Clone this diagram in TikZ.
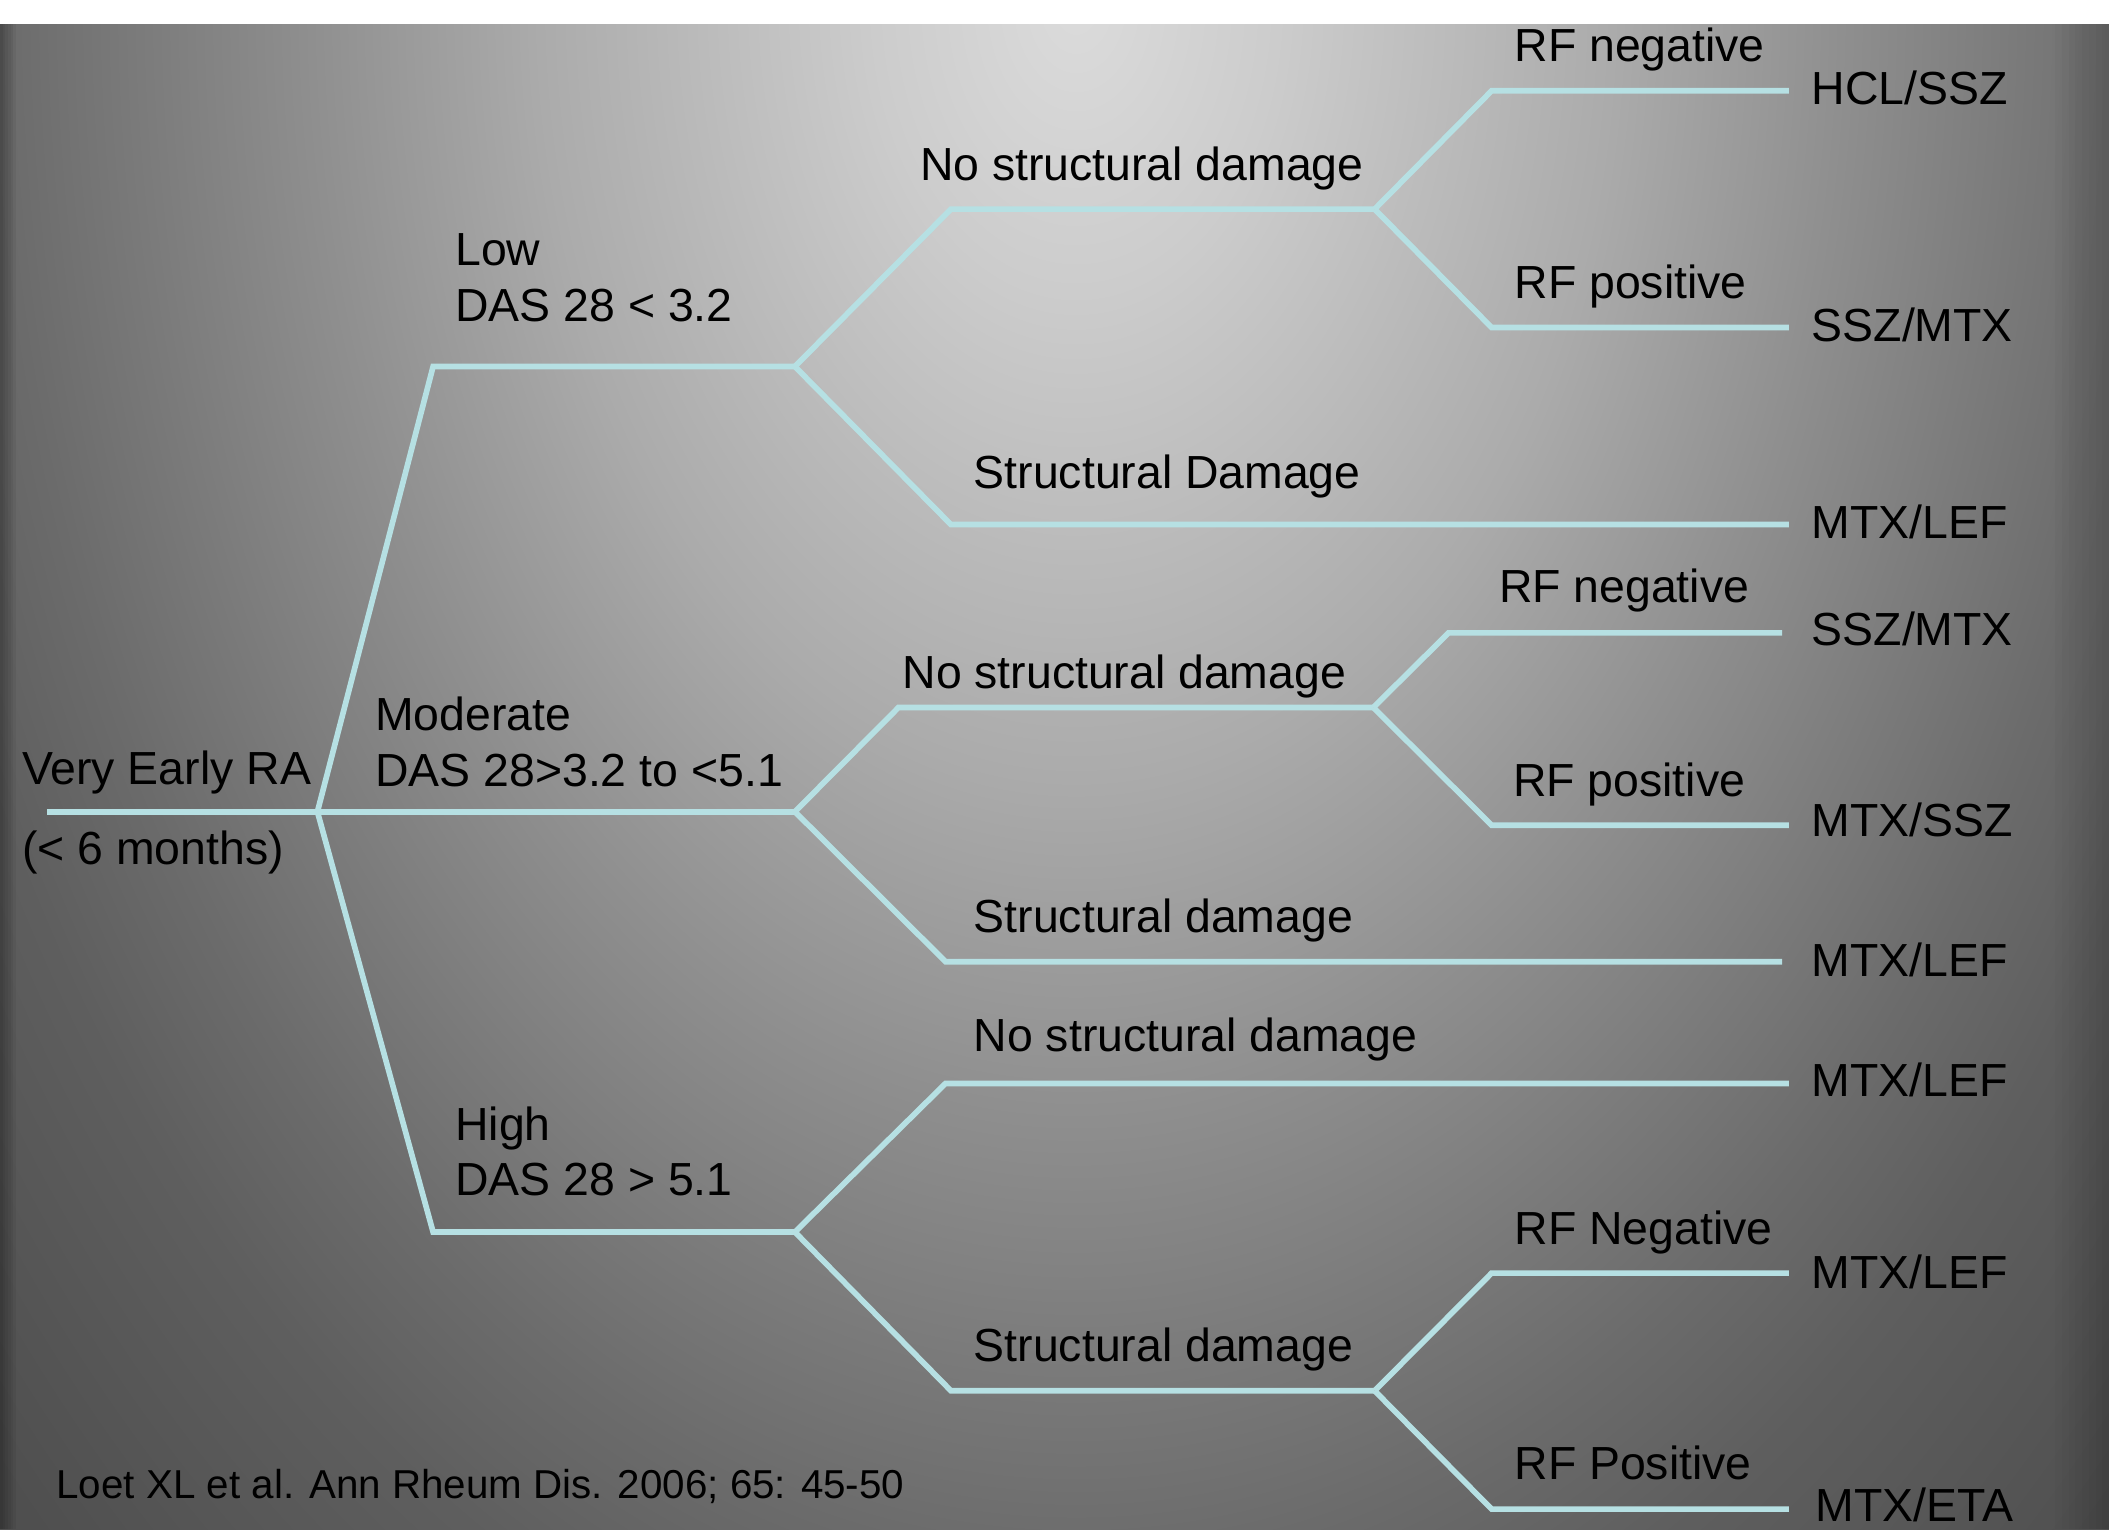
\documentclass[tikz,border=0pt]{standalone}
\usepackage{fontspec}
\setmainfont{Liberation Sans}
\definecolor{linec}{RGB}{182,224,227}
\definecolor{bga}{gray}{0.86}
\definecolor{bgb}{gray}{0.80}
\definecolor{bgc}{gray}{0.67}
\definecolor{bgd}{gray}{0.56}
\definecolor{bge}{gray}{0.48}
\definecolor{bgf}{gray}{0.42}
\definecolor{bgg}{gray}{0.37}
\definecolor{bgh}{gray}{0.31}
\pgfdeclareradialshading{bgshade}{\pgfpointorigin}{color(0bp)=(bga); color(3.75bp)=(bgb); color(10bp)=(bgc); color(14.25bp)=(bgd); color(17.5bp)=(bge); color(20bp)=(bgf); color(22.5bp)=(bgg); color(27.5bp)=(bgh); color(50bp)=(bgh)}
\tikzset{
  branch/.style={draw=linec, line width=4.2pt, line join=miter},
  lbl/.style={anchor=base west, inner sep=0pt, outer sep=0pt, text=black, font=\fontsize{34.5}{41}\selectfont},
  cite/.style={anchor=base west, inner sep=0pt, outer sep=0pt, text=black, font=\fontsize{30}{36}\selectfont}
}
\begin{document}
\begin{tikzpicture}[x=1pt,y=-1pt]
\useasboundingbox (0,0) rectangle (1568,1137);
% background
\fill[white] (0,0) rectangle (1568,18);
\begin{scope}
  \clip (0,18) rectangle (1568,1137);
  \shade[shading=bgshade] (-200,-1450) rectangle (1800,1450);
  \foreach \w in {2,4,6,8,10,12} {\fill[black, opacity=0.05] (0,18) rectangle (\w,1137);}
  \foreach \w in {5,10,15,20,25,30,35,40} {\fill[black, opacity=0.02] (1568-\w,18) rectangle (1568,1137);}
\end{scope}

% coordinates of the tree
\coordinate (r0) at (35,603.5);
\coordinate (J0) at (236,603.5);
\coordinate (lowc) at (322,272.5);
\coordinate (J1) at (591,272.5);
\coordinate (J2) at (591,603.5);
\coordinate (highc) at (322,916);
\coordinate (J3) at (591,916);
% low branch
\coordinate (c11) at (707,155.5);
\coordinate (J11) at (1022,155.5);
\coordinate (c12) at (707,390);
\coordinate (e12) at (1330,390);
\coordinate (c111) at (1109,67.5);
\coordinate (e111) at (1330,67.5);
\coordinate (c112) at (1109,243.5);
\coordinate (e112) at (1330,243.5);
% moderate branch
\coordinate (c21) at (668,526);
\coordinate (J21) at (1021,526);
\coordinate (c22) at (703,715);
\coordinate (e22) at (1325,715);
\coordinate (c211) at (1077,470.5);
\coordinate (e211) at (1325,470.5);
\coordinate (c212) at (1109,613.5);
\coordinate (e212) at (1330,613.5);
% high branch
\coordinate (c31) at (703,805.5);
\coordinate (e31) at (1330,805.5);
\coordinate (c32) at (707,1034);
\coordinate (J32) at (1022,1034);
\coordinate (c321) at (1109,946.5);
\coordinate (e321) at (1330,946.5);
\coordinate (c322) at (1109,1122);
\coordinate (e322) at (1330,1122);

% connectors
\draw[branch] (r0) -- (J0);
\draw[branch] (J0) -- (lowc) -- (J1);
\draw[branch] (J0) -- (J2);
\draw[branch] (J0) -- (highc) -- (J3);
\draw[branch] (J1) -- (c11) -- (J11);
\draw[branch] (J1) -- (c12) -- (e12);
\draw[branch] (J11) -- (c111) -- (e111);
\draw[branch] (J11) -- (c112) -- (e112);
\draw[branch] (J2) -- (c21) -- (J21);
\draw[branch] (J2) -- (c22) -- (e22);
\draw[branch] (J21) -- (c211) -- (e211);
\draw[branch] (J21) -- (c212) -- (e212);
\draw[branch] (J3) -- (c31) -- (e31);
\draw[branch] (J3) -- (c32) -- (J32);
\draw[branch] (J32) -- (c321) -- (e321);
\draw[branch] (J32) -- (c322) -- (e322);

% labels
\node[lbl] (ra1) at (16.5,583) {Very Early RA};
\node[lbl] (ra2) at (16.5,643) {(< 6 months)};
\node[lbl] (low1) at (338.5,197.6) {Low};
\node[lbl] (low2) at (338.5,239) {DAS 28 < 3.2};
\node[lbl] (mod1) at (279,543) {Moderate};
\node[lbl] (mod2) at (279,584.4) {DAS 28>3.2 to <5.1};
\node[lbl] (high1) at (338.5,848) {High};
\node[lbl] (high2) at (338.5,889) {DAS 28 > 5.1};

\node[lbl] (nsd1) at (684,134) {No structural damage};
\node[lbl] (sd1) at (724,363) {Structural Damage};
\node[lbl] (rfn1) at (1126,46) {RF negative};
\node[lbl] (t1) at (1347,78) {HCL/SSZ};
\node[lbl] (rfp1) at (1126,222) {RF positive};
\node[lbl] (t2) at (1347,254) {SSZ/MTX};
\node[lbl] (t3) at (1347,400) {MTX/LEF};

\node[lbl] (nsd2) at (671,512) {No structural damage};
\node[lbl] (rfn2) at (1114.5,448) {RF negative};
\node[lbl] (t4) at (1347,480) {SSZ/MTX};
\node[lbl] (rfp2) at (1125,592.3) {RF positive};
\node[lbl] (t5) at (1347,622) {MTX/SSZ};
\node[lbl] (sd2) at (724,693) {Structural damage};
\node[lbl] (t6) at (1347,726) {MTX/LEF};

\node[lbl] (nsd3) at (724,782) {No structural damage};
\node[lbl] (t7) at (1347,815) {MTX/LEF};
\node[lbl] (rfn3) at (1126,925) {RF Negative};
\node[lbl] (t8) at (1347,957.9) {MTX/LEF};
\node[lbl] (sd3) at (724,1012) {Structural damage};
\node[lbl] (rfp3) at (1126,1100) {RF Positive};
\node[lbl] (t9) at (1350,1131.3) {MTX/ETA};

\node[cite] (ref) at (42,1114) {Loet XL et al. Ann Rheum Dis. 2006; 65: 45-50};
\end{tikzpicture}
\end{document}
